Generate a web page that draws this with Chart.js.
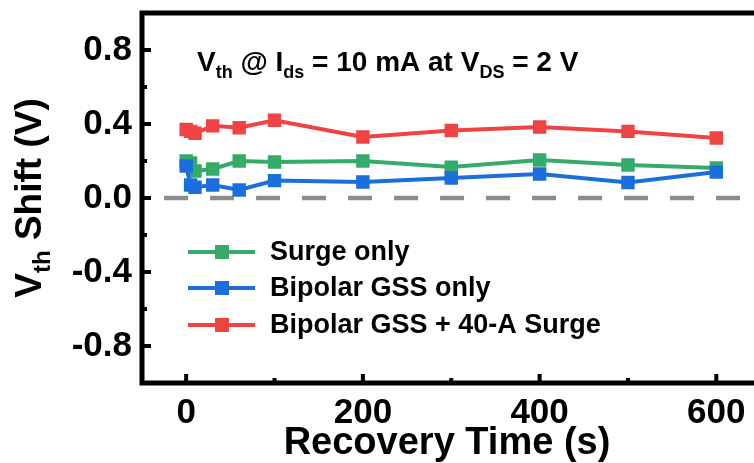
<!DOCTYPE html>
<html>
<head>
<meta charset="utf-8">
<script src="https://cdn.jsdelivr.net/npm/chart.js@4"></script>
<style>
  html, body { margin: 0; padding: 0; background: #fff; overflow: hidden; }
  canvas { display: block; }
</style>
</head>
<body>
<canvas id="chart" width="770" height="463"></canvas>
<script>
// ---------------------------------------------------------
// DATA
// ---------------------------------------------------------
const recoveryTime = [0, 5, 10, 30, 60, 100, 200, 300, 400, 500, 600]; // s
const surgeOnly     = [0.20, 0.19, 0.146, 0.157, 0.20, 0.195, 0.20, 0.167, 0.205, 0.178, 0.162];
const bipolarOnly   = [0.173, 0.07, 0.058, 0.07, 0.043, 0.094, 0.086, 0.108, 0.13, 0.084, 0.14];
const bipolarSurge  = [0.37, 0.36, 0.35, 0.39, 0.38, 0.42, 0.33, 0.365, 0.384, 0.36, 0.324];

const seriesLabels = ['Surge only', 'Bipolar GSS only', 'Bipolar GSS + 40-A Surge'];
const seriesColors = ['#35ab6a', '#1b6fdd', '#f04343'];

const zeroLineX = [-25, 650];
const zeroLineY = [0, 0];

const xTicks = [0, 200, 400, 600];
const xMinorTicks = [100, 300, 500];
const yTicks = [-0.8, -0.4, 0, 0.4, 0.8];
const yMinorTicks = [-0.6, -0.2, 0.2, 0.6];

const FONT = '"Liberation Sans", Arial, sans-serif';

// helper: pair x array with y array
function pts(xs, ys) {
  return ys.map((y, i) => ({ x: xs[i], y: y }));
}

function series(i, values, order) {
  return {
    label: seriesLabels[i],
    data: pts(recoveryTime, values),
    borderColor: seriesColors[i],
    backgroundColor: seriesColors[i],
    borderWidth: 4,
    pointStyle: 'rect',
    pointRadius: 9.5,
    pointBorderWidth: 0,
    tension: 0,
    order: order
  };
}

// draw a string made of normal + subscript pieces, centred or left aligned
function drawRich(ctx, parts, x, y, size, align) {
  const subSize = Math.round(size * 0.65);
  let total = 0;
  parts.forEach(p => {
    ctx.font = `bold ${p.sub ? subSize : size}px ${FONT}`;
    total += ctx.measureText(p.t).width;
  });
  let cx = align === 'center' ? x - total / 2 : x;
  ctx.textAlign = 'left';
  ctx.textBaseline = 'alphabetic';
  parts.forEach(p => {
    ctx.font = `bold ${p.sub ? subSize : size}px ${FONT}`;
    ctx.fillText(p.t, cx, p.sub ? y + size * 0.25 : y);
    cx += ctx.measureText(p.t).width;
  });
}

// ---------------------------------------------------------
// PLUGIN: frame, inward ticks, titles, annotation, legend
// ---------------------------------------------------------
const decorPlugin = {
  id: 'decor',
  afterDraw(chart) {
    const ctx = chart.ctx;
    const a = chart.chartArea;
    const xs = chart.scales.x;
    const ys = chart.scales.y;
    ctx.save();
    ctx.fillStyle = '#000';
    ctx.strokeStyle = '#000';

    // frame
    ctx.lineWidth = 5;
    ctx.strokeRect(a.left, a.top, a.right - a.left, a.bottom - a.top);

    // inward ticks
    ctx.lineWidth = 4;
    ctx.beginPath();
    xTicks.forEach(v => { const p = xs.getPixelForValue(v); ctx.moveTo(p, a.bottom); ctx.lineTo(p, a.bottom - 9); });
    yTicks.forEach(v => { const p = ys.getPixelForValue(v); ctx.moveTo(a.left, p); ctx.lineTo(a.left + 9, p); });
    ctx.stroke();
    ctx.beginPath();
    xMinorTicks.forEach(v => { const p = xs.getPixelForValue(v); ctx.moveTo(p, a.bottom); ctx.lineTo(p, a.bottom - 5); });
    yMinorTicks.forEach(v => { const p = ys.getPixelForValue(v); ctx.moveTo(a.left, p); ctx.lineTo(a.left + 5, p); });
    ctx.stroke();

    // x title
    ctx.font = `bold 38px ${FONT}`;
    ctx.textAlign = 'center';
    ctx.textBaseline = 'alphabetic';
    ctx.fillText('Recovery Time (s)', (a.left + 752) / 2, 454);

    // y title (rotated, with subscript)
    ctx.save();
    ctx.translate(41, (a.top + a.bottom) / 2);
    ctx.rotate(-Math.PI / 2);
    drawRich(ctx, [{ t: 'V' }, { t: 'th', sub: true }, { t: ' Shift (V)' }], 0, 0, 37, 'center');
    ctx.restore();

    // annotation
    drawRich(ctx, [
      { t: 'V' }, { t: 'th', sub: true }, { t: ' @ I' }, { t: 'ds', sub: true },
      { t: ' = 10 mA at V' }, { t: 'DS', sub: true }, { t: ' = 2 V' }
    ], 197, 71, 28, 'left');

    // legend
    const rowY = [252, 288, 325];
    ctx.font = `bold 27px ${FONT}`;
    ctx.textAlign = 'left';
    ctx.textBaseline = 'middle';
    seriesLabels.forEach((lab, i) => {
      ctx.strokeStyle = seriesColors[i];
      ctx.fillStyle = seriesColors[i];
      ctx.lineWidth = 4;
      ctx.beginPath();
      ctx.moveTo(188, rowY[i]);
      ctx.lineTo(255, rowY[i]);
      ctx.stroke();
      ctx.fillRect(222 - 7, rowY[i] - 7, 14, 14);
      ctx.fillStyle = '#000';
      ctx.fillText(lab, 270, rowY[i] + 1);
    });
    ctx.restore();
  }
};

// ---------------------------------------------------------
// CHART
// ---------------------------------------------------------
const ctx = document.getElementById('chart').getContext('2d');
new Chart(ctx, {
  type: 'line',
  data: {
    datasets: [
      series(0, surgeOnly, 2),
      series(1, bipolarOnly, 1),
      series(2, bipolarSurge, 3),
      {
        label: 'zero',
        data: pts(zeroLineX, zeroLineY),
        borderColor: '#8c8c8c',
        borderWidth: 4.5,
        borderDash: [24, 22],
        pointRadius: 0,
        order: 10
      }
    ]
  },
  options: {
    responsive: false,
    animation: false,
    layout: { padding: { left: 0, right: 9, top: 13, bottom: 0 } },
    plugins: {
      legend: { display: false },
      tooltip: { enabled: false }
    },
    scales: {
      x: {
        type: 'linear',
        min: -50,
        max: 650,
        afterFit(scale) { scale.height = 80; scale.paddingLeft = 0; scale.paddingRight = 0; },
        afterBuildTicks(scale) { scale.ticks = xTicks.map(v => ({ value: v })); },
        grid: { display: false, drawTicks: false },
        border: { display: false },
        ticks: {
          padding: 9,
          color: '#000',
          font: { family: FONT, size: 35, weight: 'bold' },
          maxRotation: 0
        }
      },
      y: {
        type: 'linear',
        min: -1,
        max: 1,
        afterFit(scale) { scale.width = 142; scale.paddingTop = 0; scale.paddingBottom = 0; },
        afterBuildTicks(scale) { scale.ticks = yTicks.map(v => ({ value: v })); },
        grid: { display: false, drawTicks: false },
        border: { display: false },
        ticks: {
          padding: 10,
          color: '#000',
          font: { family: FONT, size: 35, weight: 'bold' },
          callback: v => v.toFixed(1)
        }
      }
    }
  },
  plugins: [decorPlugin]
});
</script>
</body>
</html>
